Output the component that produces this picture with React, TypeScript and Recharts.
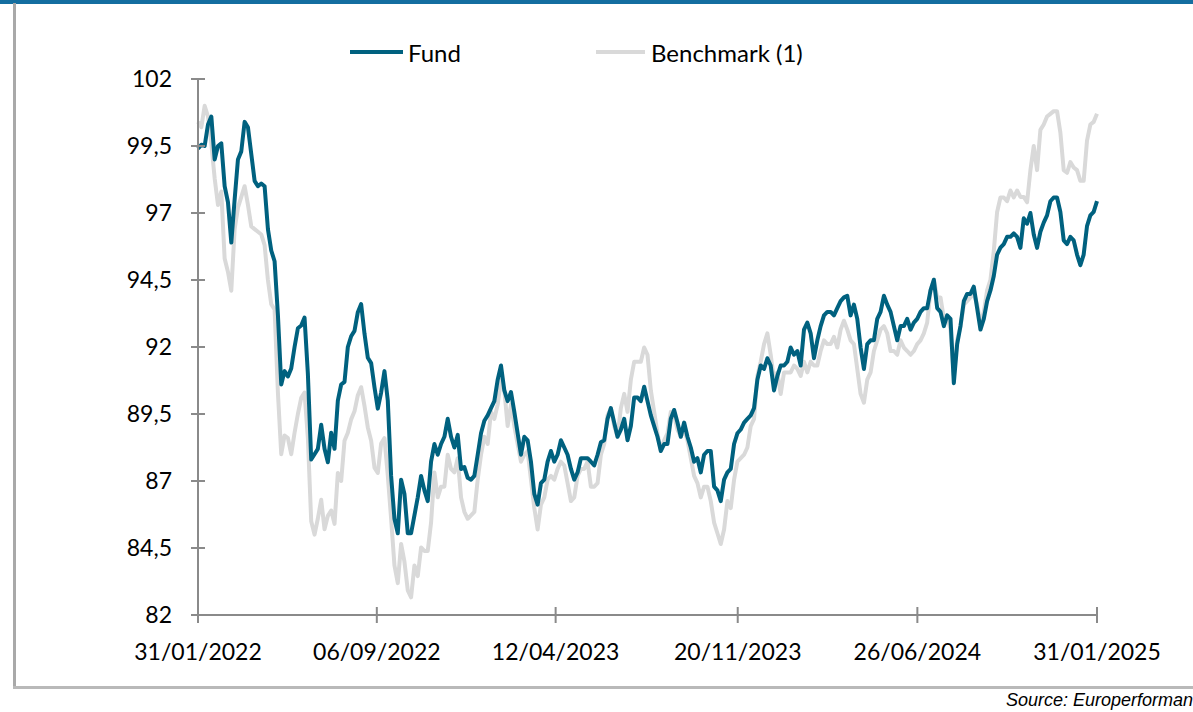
import React from 'react';
import { LineChart, Line, XAxis, YAxis } from 'recharts';

const START = Date.UTC(2022, 0, 31);
const END = Date.UTC(2025, 0, 31);

const tickDates = ['2022-01-31', '2022-09-06', '2023-04-12', '2023-11-20', '2024-06-26', '2025-01-31'];
const tickLabels = ['31/01/2022', '06/09/2022', '12/04/2023', '20/11/2023', '26/06/2024', '31/01/2025'];
const yTicks = [82, 84.5, 87, 89.5, 92, 94.5, 97, 99.5, 102];

const seriesNames = ['Fund', 'Benchmark (1)'];

const fund = [
  99.4, 99.55, 99.5, 100.3, 100.6, 99.0, 99.5, 99.6, 98.0, 97.4, 95.9, 97.5, 99.0, 99.3, 100.4, 100.2, 99.2, 98.2, 98.0, 98.1, 98.0, 96.4, 95.6, 95.2, 93.2,
  90.6, 91.1, 90.9, 91.2, 92.0, 92.7, 92.8, 93.1, 91.0, 87.8, 88.0, 88.2, 89.1, 88.2, 87.7, 88.8, 88.2, 90.0, 90.6, 90.7, 92.0, 92.4, 92.6, 93.3, 93.6, 92.5, 91.6, 91.4, 90.5, 89.7, 90.3, 91.1, 90.0,
  87.19, 85.59, 85.05, 87.05, 86.52, 85.05, 85.05, 85.72, 86.39, 87.19, 86.65, 86.25, 87.72, 88.38, 87.98, 88.38, 88.65, 89.32, 88.65, 88.25, 88.72, 87.45, 87.52, 87.12, 87.05, 87.19, 87.98, 88.78, 89.25, 89.45,
  89.72, 89.98, 90.78, 91.31, 90.38, 89.98, 90.32, 89.58, 88.78, 87.98, 88.65, 88.52, 87.72, 86.52, 86.12, 86.92, 87.05, 87.72, 88.12, 87.72, 87.98, 88.52, 88.25, 87.98, 87.45, 87.05, 87.32, 87.85, 87.85, 87.85, 87.72, 87.58, 87.98, 88.45, 88.52, 89.32, 89.72, 89.18, 88.65, 88.92, 89.32, 88.52, 89.05, 90.12, 90.12,
  89.98, 90.52, 89.98, 89.45, 89.05, 88.65, 88.12, 88.38, 88.38, 89.32, 89.65, 89.18, 88.65, 89.18, 88.65, 88.25, 87.72, 87.85, 87.32, 87.98, 88.12, 88.12, 86.79, 86.65, 86.25, 87.05, 87.32, 87.45, 88.38, 88.78, 88.92, 89.18, 89.32, 89.45, 89.72, 90.78, 91.31, 91.18, 91.58, 91.31, 90.38, 90.92, 91.31, 91.31, 91.45,
  91.98, 91.71, 91.85, 91.31, 92.65, 92.91, 92.51, 91.58, 92.25, 92.78, 93.18, 93.31, 93.31, 93.18, 93.45, 93.71, 93.85, 93.91, 93.18, 93.58, 93.05, 91.98, 91.18, 92.11, 92.25, 92.25, 93.05, 93.31, 93.91, 93.58, 93.31, 92.78, 92.25, 92.78, 92.78, 93.05, 92.65, 92.91, 93.05, 93.31, 93.45, 93.45, 94.11, 94.51, 93.45,
  93.31, 92.78, 93.18, 93.05, 90.65, 92.11, 92.78, 93.71, 93.98, 93.98, 94.25, 93.45, 92.65, 93.05, 93.71, 94.11, 94.65, 95.45, 95.71, 95.84, 96.11, 96.11, 96.24, 96.11, 95.7, 96.8, 96.6, 97.0, 96.2, 95.7, 96.3, 96.64, 96.91, 97.44, 97.58, 97.58, 97.04, 95.98, 95.84, 96.11, 95.98, 95.45, 95.05, 95.45, 96.51, 96.91, 97.04, 97.44,
];

const benchmark = [
  100.4, 100.2, 101.0, 100.6, 99.6, 98.3, 97.3, 97.8, 95.3, 94.8, 94.1, 96.4, 97.2, 97.6, 98.0, 97.3, 96.5, 96.4, 96.3, 96.2, 95.8, 94.5, 93.6, 93.4, 90.3,
  88.0, 88.7, 88.6, 88.0, 88.8, 89.5, 90.1, 90.3, 88.6, 85.5, 85.0, 85.6, 86.3, 85.2, 85.7, 85.9, 85.4, 87.3, 87.0, 88.5, 88.8, 89.3, 89.6, 90.2, 90.5, 89.8, 89.0, 88.5, 87.5, 87.3, 88.4, 88.6, 87.2,
  85.59, 83.85, 83.19, 84.65, 83.99, 82.92, 82.66, 83.85, 83.45, 84.52, 84.39, 84.39, 85.45, 87.32, 86.39, 86.79, 86.79, 87.98, 87.45, 87.32, 87.85, 86.39, 85.85, 85.59, 85.72, 85.85, 87.05, 87.98, 88.65, 88.38,
  89.58, 89.32, 89.85, 90.78, 90.38, 89.05, 89.85, 89.05, 88.38, 87.72, 87.98, 88.12, 87.05, 85.99, 85.19, 86.12, 86.39, 87.05, 87.19, 87.05, 87.45, 87.72, 87.58, 86.92, 86.25, 86.39, 87.19, 87.45, 87.45, 87.72, 86.79, 86.79, 86.92, 87.98, 88.38, 89.45, 89.72, 89.05, 88.65, 89.72, 90.25, 89.58, 90.78, 91.45, 91.45,
  91.45, 91.98, 91.71, 90.38, 89.58, 88.78, 88.12, 88.52, 88.78, 89.58, 89.45, 88.92, 88.65, 88.92, 88.52, 87.85, 87.19, 86.92, 86.39, 86.79, 86.79, 86.25, 85.45, 85.05, 84.65, 85.19, 86.25, 85.99, 87.05, 87.72, 87.85, 87.98, 88.25, 89.05, 89.32, 90.92, 91.45, 92.11, 92.51, 91.71, 90.78, 91.05, 90.25, 91.05, 91.05,
  91.05, 91.31, 91.18, 90.92, 91.45, 91.05, 91.45, 91.31, 91.31, 91.85, 92.25, 92.11, 92.11, 92.38, 91.98, 92.65, 92.98, 92.65, 92.25, 92.11, 91.18, 90.25, 89.92, 90.78, 91.05, 91.85, 92.25, 92.65, 92.78, 92.51, 91.85, 91.85, 91.71, 92.25, 91.98, 91.85, 91.71, 91.85, 92.11, 92.25, 92.51, 92.91, 94.11, 94.51, 93.85,
  93.85, 93.05, 93.18, 92.65, 90.92, 92.25, 92.78, 93.58, 93.71, 93.85, 93.98, 93.58, 92.91, 93.31, 94.11, 94.51, 95.58, 97.04, 97.58, 97.58, 97.44, 97.84, 97.58, 97.84, 97.6, 97.6, 97.4, 98.6, 99.5, 98.6, 100.1, 100.3, 100.6, 100.7, 100.8, 100.8, 100.0, 98.6, 98.5, 98.9, 98.7, 98.6, 98.2, 98.2, 99.7, 100.3, 100.4, 100.7,
];

const data = fund.map((f, i) => ({
  t: START + (i * (END - START)) / (fund.length - 1),
  fund: f,
  benchmark: benchmark[i],
}));

const FUND_COLOR = '#00617f';
const BENCH_COLOR = '#d9d9d9';
const AXIS_COLOR = '#8a8a8a';
const FONT = 'Lato, "Open Sans", sans-serif';
const FONT_SIZE = 23;

const Y_TICK_SIZE = 7;
const Y_TICK_MARGIN = 19;
const X_TICK_SIZE = 8;
const X_TICK_MARGIN = 21;

const tickValues = tickDates.map((d) => Date.parse(d));

const YTick = (props: any) => {
  const { x, y, payload } = props;
  const axisX = x + Y_TICK_SIZE + Y_TICK_MARGIN;
  return (
    <g>
      <line x1={axisX - 7} x2={axisX + 7} y1={y} y2={y} stroke={AXIS_COLOR} strokeWidth={2} />
      <text x={x} y={y} dy="0.355em" textAnchor="end" fill="#000" fontFamily={FONT} fontSize={FONT_SIZE}>
        {String(payload.value).replace('.', ',')}
      </text>
    </g>
  );
};

const XTick = (props: any) => {
  const { x, y, payload } = props;
  const axisY = y - X_TICK_SIZE - X_TICK_MARGIN;
  const idx = tickValues.indexOf(payload.value);
  return (
    <g>
      <line x1={x} x2={x} y1={axisY - 8} y2={axisY + 8} stroke={AXIS_COLOR} strokeWidth={2} />
      <text x={x} y={y} dy="0.71em" textAnchor="middle" fill="#000" fontFamily={FONT} fontSize={FONT_SIZE}>
        {idx >= 0 ? tickLabels[idx] : ''}
      </text>
    </g>
  );
};

const legendItemStyle: React.CSSProperties = {
  position: 'absolute',
  top: 38,
  height: 28,
  display: 'flex',
  alignItems: 'center',
  fontFamily: FONT,
  fontSize: 24,
  color: '#000',
  whiteSpace: 'nowrap',
};

export default function App() {
  return (
    <div style={{ position: 'absolute', left: 0, top: 0, width: 1193, height: 712, background: '#fff', overflow: 'hidden' }}>
      <div style={{ position: 'absolute', left: 0, top: 0, width: 1193, height: 4, background: '#146ea0' }} />
      <div style={{ position: 'absolute', left: 13, top: 3, width: 3, height: 686, background: '#a9a9a9' }} />
      <div style={{ position: 'absolute', left: 13, top: 686, width: 1180, height: 3, background: '#b9b9b9' }} />
      <div style={{ position: 'absolute', left: 0, top: 0 }}>
        <LineChart width={1193} height={712} data={data} margin={{ top: 79, right: 96, bottom: 0, left: 0 }}>
          <XAxis
            dataKey="t"
            type="number"
            domain={[START, END]}
            ticks={tickValues}
            height={97}
            axisLine={{ stroke: AXIS_COLOR, strokeWidth: 2 }}
            tickLine={false}
            tickSize={X_TICK_SIZE}
            tickMargin={X_TICK_MARGIN}
            tick={<XTick />}
            interval={0}
          />
          <YAxis
            type="number"
            domain={[82, 102]}
            ticks={yTicks}
            width={198}
            axisLine={{ stroke: AXIS_COLOR, strokeWidth: 2 }}
            tickLine={false}
            tickSize={Y_TICK_SIZE}
            tickMargin={Y_TICK_MARGIN}
            tick={<YTick />}
            interval={0}
            allowDataOverflow
          />
          <Line
            type="linear"
            dataKey="benchmark"
            name={seriesNames[1]}
            stroke={BENCH_COLOR}
            strokeWidth={4}
            dot={false}
            strokeLinejoin="round"
            isAnimationActive={false}
          />
          <Line
            type="linear"
            dataKey="fund"
            name={seriesNames[0]}
            stroke={FUND_COLOR}
            strokeWidth={4}
            dot={false}
            strokeLinejoin="round"
            isAnimationActive={false}
          />
        </LineChart>
      </div>
      <div style={{ ...legendItemStyle, left: 350 }}>
        <div style={{ width: 53, height: 4, background: FUND_COLOR, marginRight: 5 }} />
        <span>{seriesNames[0]}</span>
      </div>
      <div style={{ ...legendItemStyle, left: 596 }}>
        <div style={{ width: 49, height: 4, background: BENCH_COLOR, marginRight: 6 }} />
        <span>{seriesNames[1]}</span>
      </div>
      <div style={{ position: 'absolute', right: 0, top: 690, fontFamily: '"Liberation Sans", Arial, sans-serif', fontStyle: 'italic', fontSize: 18, color: '#000', whiteSpace: 'nowrap' }}>
        Source: Europerforman
      </div>
    </div>
  );
}
